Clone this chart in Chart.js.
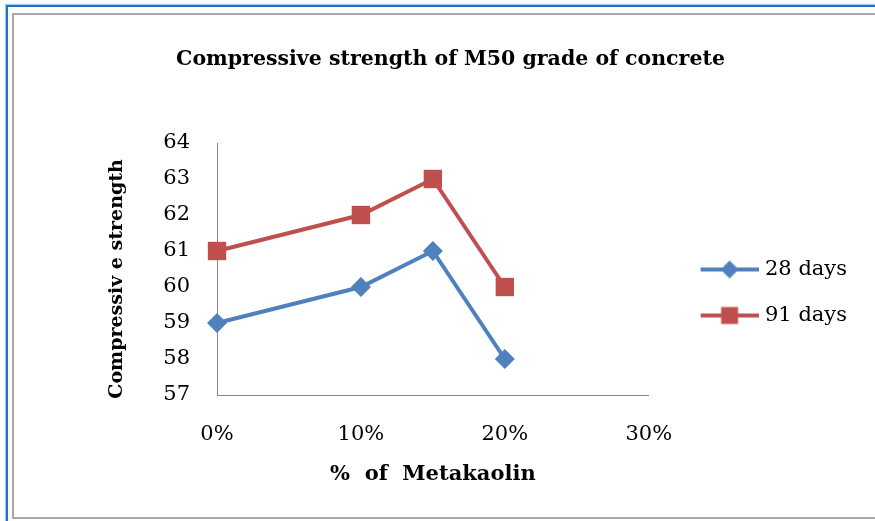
<!DOCTYPE html>
<html>
<head>
<meta charset="utf-8">
<script src="https://cdn.jsdelivr.net/npm/chart.js"></script>
<style>
  html, body { margin: 0; padding: 0; background: #fff; overflow: hidden; }
  #page { width: 875px; height: 521px; position: relative; overflow: hidden; }
  #frameBlue { position: absolute; left: 6px; top: 5px; width: 3000px; height: 3000px;
    border-top: 2px solid #1a74c9; border-left: 2px solid #1a74c9; box-shadow: -1px -1px 1px #a8cdee; }
  #frameGray { position: absolute; left: 12px; top: 13px; width: 3000px; height: 502px;
    border-top: 2px solid #a9a9a9; border-left: 2px solid #a9a9a9; border-bottom: 2px solid #a9a9a9; }
  #chart { position: absolute; left: 0; top: 0; }
</style>
</head>
<body>
<div id="page">
<div id="frameBlue"></div>
<div id="frameGray"></div>
<canvas id="chart" width="875" height="521"></canvas>
</div>
<script>
// values
const pctMetakaolin = [0, 10, 15, 20];
const days28 = [59, 60, 61, 58];
const days91 = [61, 62, 63, 60];
const seriesNames = ['28 days', '91 days'];
const xTicks = [0, 10, 20, 30];
const yTicks = [57, 58, 59, 60, 61, 62, 63, 64];

const blue = '#4f81bd';
const red = '#c0504d';
const serif = 'DejaVu Serif';

// legend swatch: line with the marker in the middle (like Excel)
function legendSwatch(color, style, radius) {
  const c = document.createElement('canvas');
  c.width = 80;
  c.height = 24;
  const ctx = c.getContext('2d');
  ctx.strokeStyle = color;
  ctx.lineWidth = 4;
  ctx.beginPath();
  ctx.moveTo(22, 12);
  ctx.lineTo(80, 12);
  ctx.stroke();
  ctx.fillStyle = color;
  Chart.helpers.drawPoint(ctx, {pointStyle: style, radius: radius, borderWidth: 0, rotation: 0}, 51, 12);
  return c;
}
const swatches = [legendSwatch(blue, 'rectRot', 9), legendSwatch(red, 'rect', 12)];

const toPoints = ys => pctMetakaolin.map((x, i) => ({x: x, y: ys[i]}));

new Chart(document.getElementById('chart'), {
  type: 'line',
  data: {
    datasets: [
      {
        label: seriesNames[0],
        data: toPoints(days28),
        borderColor: blue,
        backgroundColor: blue,
        borderWidth: 4,
        pointStyle: 'rectRot',
        pointRadius: 10,
        pointBorderWidth: 0,
        clip: false
      },
      {
        label: seriesNames[1],
        data: toPoints(days91),
        borderColor: red,
        backgroundColor: red,
        borderWidth: 4,
        pointStyle: 'rect',
        pointRadius: 13,
        pointBorderWidth: 0,
        clip: false
      }
    ]
  },
  options: {
    responsive: false,
    animation: false,
    layout: {padding: {left: 54, right: 28, top: 0, bottom: 34}},
    plugins: {
      title: {
        display: true,
        text: 'Compressive strength of M50 grade of concrete',
        color: '#000',
        font: {family: serif, size: 20.5, weight: 'bold'},
        padding: {top: 47.7, bottom: 70.7}
      },
      legend: {
        position: 'right',
        fullSize: false,
        title: {display: true, text: '', font: {size: 20}, padding: {top: 0, bottom: 23}},
        labels: {
          usePointStyle: true,
          pointStyleWidth: 89.7,
          padding: 25,
          textAlign: 'right',
          color: '#000',
          font: {family: serif, size: 21},
          generateLabels: chart => {
            const items = Chart.defaults.plugins.legend.labels.generateLabels(chart);
            items.forEach((it, i) => { it.pointStyle = swatches[i]; });
            return items;
          }
        }
      },
      tooltip: {enabled: false}
    },
    scales: {
      x: {
        type: 'linear',
        min: 0,
        max: 30,
        afterBuildTicks: s => { s.ticks = xTicks.map(v => ({value: v})); },
        afterFit: s => { s.height = 92; },
        grid: {display: false, drawTicks: false},
        border: {color: '#868686', width: 1},
        ticks: {padding: 27, maxRotation: 0, color: '#000', font: {family: serif, size: 21},
          callback: v => v + '%'},
        title: {display: true, text: '%  of  Metakaolin', color: '#000',
          font: {family: serif, size: 21, weight: 'bold'}, padding: {top: 0, bottom: 0}}
      },
      y: {
        min: 57,
        max: 64,
        afterBuildTicks: s => { s.ticks = yTicks.map(v => ({value: v})); },
        afterFit: s => { s.width = 163; },
        grid: {display: false, drawTicks: false},
        border: {color: '#868686', width: 1},
        ticks: {padding: 27, color: '#000', font: {family: serif, size: 21}},
        title: {display: true, text: 'Compressiv e strength   ', color: '#000',
          font: {family: serif, size: 19, weight: 'bold'}, padding: {top: 51.6, bottom: 0}}
      }
    }
  }
});
</script>
</body>
</html>
